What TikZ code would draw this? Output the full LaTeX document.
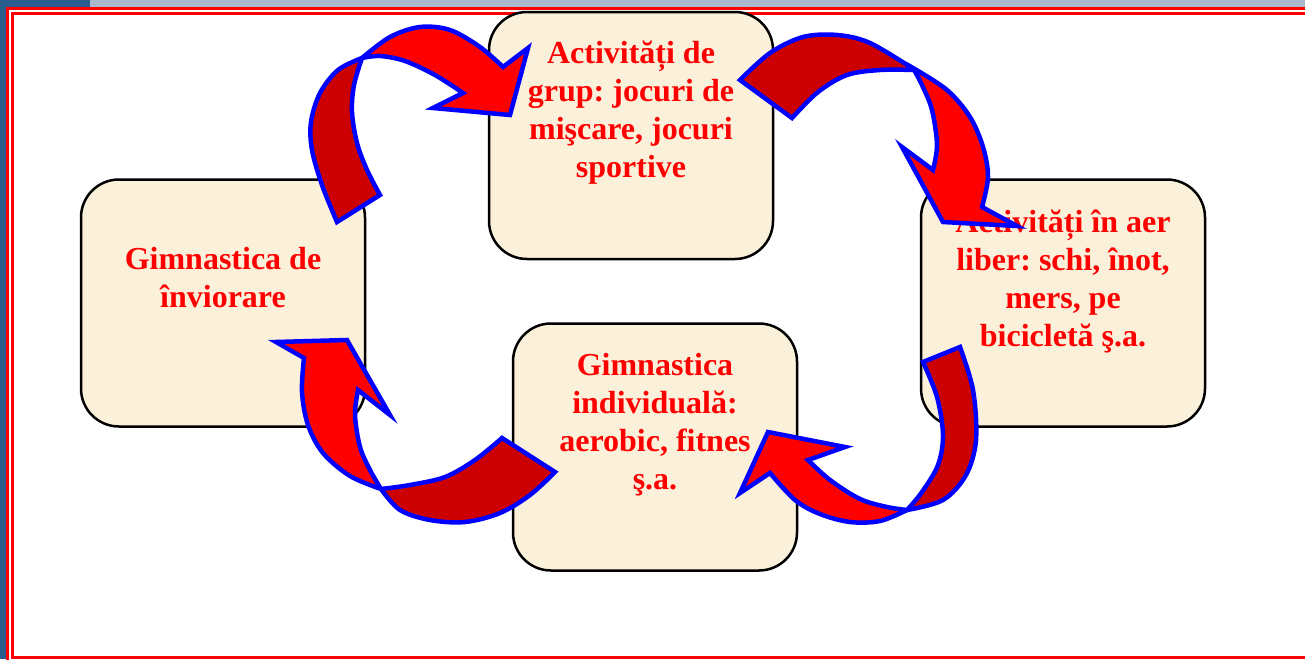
\documentclass[tikz,border=0pt]{standalone}
\usepackage{fontspec}
\setmainfont{Liberation Serif}
\frenchspacing
\definecolor{bgblue}{HTML}{2A5E8E}
\definecolor{bglight}{HTML}{A9B8CC}
\definecolor{framered}{HTML}{FF0000}
\definecolor{boxfill}{HTML}{FBF0D9}
\definecolor{txtred}{HTML}{FF0000}
\definecolor{arrblue}{HTML}{0000FF}
\definecolor{arrred}{HTML}{FF0000}
\definecolor{arrdark}{HTML}{CC0000}
\begin{document}
\begin{tikzpicture}[x=1pt,y=-1pt,
  card/.style={draw=black, line width=2.5pt, fill=boxfill, rounded corners=38pt,
    minimum width=284pt, minimum height=247pt, inner sep=0pt},
  cardtext/.style={text=txtred, align=center, inner sep=0pt,
    font=\fontsize{32}{38}\selectfont\bfseries},
  front/.style={draw=arrblue, fill=arrred, line width=4.5pt, line join=miter},
  back/.style={draw=arrblue, fill=arrdark, line width=4.5pt, line join=miter},
  sm/.style={smooth, tension=0.55}]
\useasboundingbox (0,0) rectangle (1305,659);
% background and frame
\fill[bgblue] (0,0) rectangle (1305,659);
\fill[bglight] (90,0) rectangle (1305,7);
\filldraw[draw=framered, fill=white, line width=3pt] (7.5,8.7) rectangle (1320,675);
\draw[framered, line width=2.8pt] (12.3,13.8) rectangle (1320,657.5);
% boxes
\node[card] (top) at (631,135.5) {};
\node[card] (left) at (223,303) {};
\node[card] (right) at (1063,303) {};
\node[card] (bottom) at (655,447) {};
\node[cardtext] (toptext) at ([yshift=23pt]top.center) {Activități de\\grup: jocuri de\\mişcare, jocuri\\sportive};
\node[cardtext] (lefttext) at ([yshift=25pt]left.center) {Gimnastica de\\înviorare};
\node[cardtext] (righttext) at ([yshift=21pt]right.center) {Activități în aer\\liber: schi, înot,\\mers, pe\\bicicletă ş.a.};
\node[cardtext] (bottomtext) at ([yshift=22pt]bottom.center) {Gimnastica\\individuală:\\aerobic, fitnes\\ş.a.};
% arrow 1: left -> top
\filldraw[back] plot[sm] coordinates {(337,222) (322,185) (312,150) (311,122) (320,93) (338,70) (362,58)}
  -- plot[sm] coordinates {(362,58) (354,85) (352,112) (357,143) (367,170) (380,195)} -- cycle;
\filldraw[front] plot[sm] coordinates {(362,58) (390,37) (420,27) (450,30) (480,47) (503,67)}
  -- (528,48) -- (510,115) -- (433,108)
  -- plot[sm] coordinates {(463,93) (435,75) (405,61) (380,56) (362,58)} -- cycle;
% arrow 2: top -> right
\filldraw[back] plot[sm] coordinates {(740,80) (770,53) (803,37) (837,35) (870,43) (915,70)}
  -- plot[sm] coordinates {(915,70) (880,70) (847,75) (818,92) (792,118)} -- cycle;
\filldraw[front] plot[sm] coordinates {(913,68) (947,90) (970,117) (983,147) (988,177) (982,207)}
  -- (1017,226) -- (943,222) -- (902,147)
  -- plot[sm] coordinates {(933,170) (937,145) (932,110) (922,85) (913,68)} -- cycle;
% arrow 3: right -> bottom
\filldraw[back] plot[sm] coordinates {(960,347) (973,390) (976,440) (966,475) (943,500) (907,510)}
  -- plot[sm] coordinates {(907,510) (922,492) (938,465) (943,435) (937,397) (923,362)} -- cycle;
\filldraw[front] plot[sm] coordinates {(907,510) (880,521) (850,522) (820,514) (795,500) (770,473)}
  -- (740,493) -- (768,432) -- (845,447)
  -- plot[sm] coordinates {(808,460) (830,480) (860,499) (887,507) (907,510)} -- cycle;
% arrow 4: bottom -> left
\filldraw[back] plot[sm] coordinates {(381,489) (410,485) (445,477) (475,460) (502,438)}
  -- (555,472)
  -- plot[sm] coordinates {(555,472) (530,495) (500,513) (465,522) (430,520) (400,510) (381,489)} -- cycle;
\filldraw[front] plot[sm] coordinates {(381,489) (350,476) (323,453) (308,425) (302,392) (304,358)}
  -- (276,342) -- (347,340) -- (390,415)
  -- plot[sm] coordinates {(358,390) (355,415) (360,447) (370,470) (381,489)} -- cycle;
\end{tikzpicture}
\end{document}
